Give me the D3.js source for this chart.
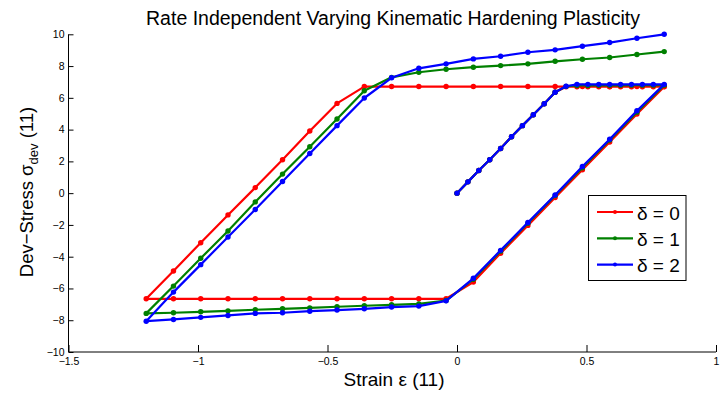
<!DOCTYPE html>
<html>
<head>
<meta charset="utf-8">
<script src="https://cdn.jsdelivr.net/npm/d3@7/dist/d3.min.js"></script>
<style>
  html, body { margin: 0; padding: 0; background: #fff; }
  svg { display: block; font-family: "Liberation Sans", Arial, Helvetica, sans-serif; }
</style>
</head>
<body>
<svg id="chart" width="723" height="394"></svg>
<script>
// ---- data ----
const strain = [0, 0.0421, 0.0842, 0.1263, 0.1684, 0.2105, 0.2526, 0.2947, 0.3368, 0.3789,
  0.4211, 0.4632, 0.5053, 0.5474, 0.5895, 0.6316, 0.6737, 0.7158, 0.7579, 0.8,
  0.6947, 0.5895, 0.4842, 0.3789, 0.2737, 0.1684, 0.0632, -0.0421, -0.1474, -0.2526,
  -0.3579, -0.4632, -0.5684, -0.6737, -0.7789, -0.8842, -0.9895, -1.0947, -1.2,
  -1.0947, -0.9895, -0.8842, -0.7789, -0.6737, -0.5684, -0.4632, -0.3579, -0.2526, -0.1474,
  -0.0421, 0.0632, 0.1684, 0.2737, 0.3789, 0.4842, 0.5895, 0.6947, 0.8];

const stressDelta0 = [0, 0.71, 1.43, 2.1, 2.81, 3.55, 4.25, 4.94, 5.63, 6.35,
  6.7, 6.7, 6.7, 6.7, 6.7, 6.7, 6.7, 6.7, 6.7, 6.7,
  4.98, 3.22, 1.47, -0.28, -2.03, -3.78, -5.6, -6.65, -6.65, -6.65,
  -6.65, -6.65, -6.65, -6.65, -6.65, -6.65, -6.65, -6.65, -6.65,
  -4.9, -3.12, -1.37, 0.35, 2.1, 3.91, 5.65, 6.71, 6.71, 6.71,
  6.71, 6.71, 6.71, 6.71, 6.71, 6.71, 6.71, 6.71, 6.71];

const stressDelta1 = [0, 0.71, 1.43, 2.1, 2.81, 3.55, 4.25, 4.94, 5.63, 6.35,
  6.72, 6.78, 6.78, 6.79, 6.79, 6.79, 6.8, 6.8, 6.8, 6.8,
  5.1, 3.35, 1.6, -0.15, -1.9, -3.65, -5.42, -6.76, -6.97, -7.03,
  -7.09, -7.15, -7.22, -7.28, -7.34, -7.41, -7.47, -7.53, -7.57,
  -5.85, -4.1, -2.38, -0.55, 1.2, 2.92, 4.67, 6.45, 7.29, 7.61,
  7.8, 7.93, 8.03, 8.14, 8.3, 8.43, 8.54, 8.73, 8.91];

const stressDelta2 = [0, 0.71, 1.43, 2.1, 2.81, 3.55, 4.25, 4.94, 5.63, 6.35,
  6.73, 6.85, 6.85, 6.85, 6.85, 6.85, 6.85, 6.85, 6.85, 6.85,
  5.19, 3.4, 1.68, -0.11, -1.85, -3.6, -5.36, -6.78, -7.11, -7.17,
  -7.28, -7.36, -7.43, -7.53, -7.57, -7.7, -7.82, -7.95, -8.06,
  -6.23, -4.5, -2.76, -1.03, 0.73, 2.5, 4.25, 5.99, 7.26, 7.86,
  8.14, 8.45, 8.62, 8.87, 9.02, 9.25, 9.48, 9.75, 10.0];

const seriesNames = ["δ = 0", "δ = 1", "δ = 2"];
const seriesColors = ["#ff0000", "#008000", "#0000ff"];
const xTicks = [-1.5, -1, -0.5, 0, 0.5, 1];
const yTicks = [-10, -8, -6, -4, -2, 0, 2, 4, 6, 8, 10];
const titleText = "Rate Independent Varying Kinematic Hardening Plasticity";

// ---- layout ----
const svg = d3.select("#chart");
const x = d3.scaleLinear().domain([-1.5, 1]).range([68.5, 716]);
const y = d3.scaleLinear().domain([-10, 10]).range([352, 34.3]);

const fmt = v => (v < 0 ? "\u2212" : "") + String(Math.abs(v));

// axes
const xAxis = d3.axisBottom(x).tickValues(xTicks).tickSize(-7).tickPadding(10).tickFormat(fmt);
const yAxis = d3.axisLeft(y).tickValues(yTicks).tickSize(-5).tickPadding(4).tickFormat(fmt);

const gx = svg.append("g").attr("transform", `translate(0,${y(-10)})`).call(xAxis);
const gy = svg.append("g").attr("transform", `translate(${x(-1.5)},0)`).call(yAxis);
[gx, gy].forEach(g => {
  g.selectAll(".tick line").attr("stroke", "#000").attr("stroke-width", 1);
  g.selectAll(".tick text").attr("fill", "#000").attr("font-size", 10.5)
    .attr("font-family", "Liberation Sans, Arial, sans-serif");
});
gx.select(".domain").remove();
gy.select(".domain").remove();
svg.append("line").attr("x1", x(-1.5)).attr("x2", x(1)).attr("y1", y(-10)).attr("y2", y(-10))
  .attr("stroke", "#000").attr("stroke-width", 1);
svg.append("line").attr("x1", x(-1.5)).attr("x2", x(-1.5)).attr("y1", y(-10)).attr("y2", y(10))
  .attr("stroke", "#000").attr("stroke-width", 1);
gx.selectAll(".tick text").attr("dy", "0.3em");

// series
const allSeries = [stressDelta0, stressDelta1, stressDelta2];
const line = d3.line().x(d => x(d[0])).y(d => y(d[1]));
allSeries.forEach((vals, i) => {
  const pts = strain.map((s, j) => [s, vals[j]]);
  const g = svg.append("g");
  g.append("path").attr("d", line(pts)).attr("fill", "none")
    .attr("stroke", seriesColors[i]).attr("stroke-width", 2.2).attr("stroke-linejoin", "round");
  g.selectAll("circle").data(pts).join("circle")
    .attr("cx", d => x(d[0])).attr("cy", d => y(d[1])).attr("r", 2.7)
    .attr("fill", seriesColors[i]);
});

// title
svg.append("text").attr("x", 393).attr("y", 25).attr("text-anchor", "middle")
  .attr("font-size", 19.5).attr("fill", "#000").text(titleText);

// x label
svg.append("text").attr("x", 394).attr("y", 386).attr("text-anchor", "middle")
  .attr("font-size", 19).attr("fill", "#000").text("Strain ε (11)");

// y label
const yl = svg.append("text").attr("transform", "translate(33,192) rotate(-90)")
  .attr("text-anchor", "middle").attr("font-size", 18.5).attr("fill", "#000");
yl.append("tspan").text("Dev\u2212Stress σ");
yl.append("tspan").attr("font-size", 13).attr("dy", 5).text("dev");
yl.append("tspan").attr("dy", -5).text(" (11)");

// legend
const lg = svg.append("g");
lg.append("rect").attr("x", 588.5).attr("y", 195.5).attr("width", 97.5).attr("height", 85)
  .attr("fill", "#fff").attr("stroke", "#000").attr("stroke-width", 1);
seriesNames.forEach((name, i) => {
  const cy = 212 + i * 26.3;
  lg.append("line").attr("x1", 597).attr("x2", 633).attr("y1", cy).attr("y2", cy)
    .attr("stroke", seriesColors[i]).attr("stroke-width", 2.2);
  lg.append("circle").attr("cx", 615).attr("cy", cy).attr("r", 2).attr("fill", seriesColors[i]);
  lg.append("text").attr("x", 637).attr("y", cy + 7.5).attr("font-size", 19)
    .attr("fill", "#000").text(name);
});
</script>
</body>
</html>
